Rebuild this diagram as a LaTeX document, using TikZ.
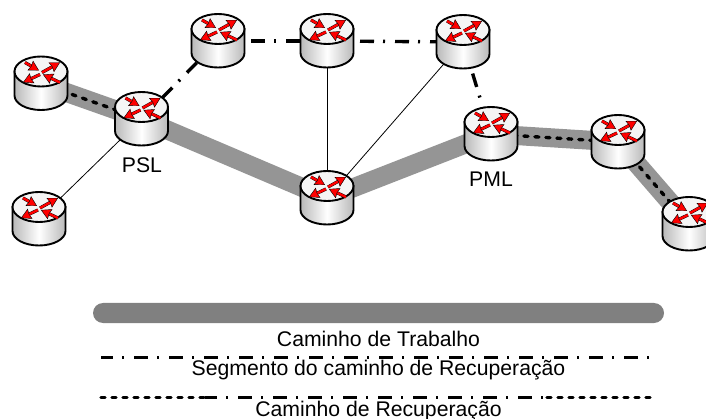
\documentclass[tikz,border=0pt]{standalone}
\usepackage{fontspec}
\setmainfont{Liberation Sans}
\usepackage{tikz}
\usetikzlibrary{arrows.meta}

\tikzset{
    spot/.style={inner sep=0pt, minimum width=54pt, minimum height=54pt},
    label/.style={font=\fontsize{21.2}{24}\selectfont, inner sep=0pt},
    work/.style={draw=workgray, line width=19pt},
    segment/.style={draw=black, line width=3.4pt, dash pattern=on 14pt off 9pt on 2pt off 10pt, dash phase=2pt},
    backup/.style={draw=black, line width=3.4pt, line cap=round, dash pattern=on 4pt off 7pt},
    plain/.style={draw=black, line width=0.8pt},
    legendbar/.style={fill=bargray, rounded corners=10pt, minimum width=571pt, minimum height=20pt, inner sep=0pt},
    redarrow/.style={draw=black, line width=0.4pt, double=red, double distance=2.4pt, -{Stealth[length=10pt, width=11pt, fill=red, inset=1pt]}},
    router/.pic={
        \draw[line width=1.9pt, left color=gray!55, right color=gray!55, middle color=white]
            (-26.5,-12) -- (-26.5,12) arc[start angle=180, end angle=0, x radius=26.5, y radius=14.5] -- (26.5,-12) -- cycle;
        \draw[line width=1.9pt, fill=gray!8] (0,-12) ellipse[x radius=26.5, y radius=15];
        \draw[redarrow] (-16,-21) -- (-2,-13);
        \draw[redarrow] (1,-11) -- (19,-21);
        \draw[redarrow] (-1,-9) -- (-18,-1);
        \draw[redarrow] (19,-1) -- (2,-9);
    }
}
\definecolor{workgray}{HTML}{959595}
\definecolor{bargray}{HTML}{808080}

\begin{document}
\begin{tikzpicture}[x=1pt, y=-1pt]
    \clip (0,0) rectangle (706,419);

    % Routers
    \node [spot] (left) at (41,83.5) {};
    \node [spot] (psl) at (141.5,119) {};
    \node [spot] (lower) at (39,219) {};
    \node [spot] (topa) at (218,41) {};
    \node [spot] (topb) at (327,41) {};
    \node [spot] (topc) at (463,42) {};
    \node [spot] (middle) at (327,198) {};
    \node [spot] (pml) at (491,134) {};
    \node [spot] (right) at (618,142) {};
    \node [spot] (far) at (689,224) {};

    % Working path
    \draw [work] (left.center) -- (psl.center) -- (middle.center) -- (pml.center) -- (right.center) -- (far.center);

    % Thin links
    \draw [plain] (psl.center) -- (lower.center);
    \draw [plain] (topb.center) -- (middle.center);
    \draw [plain] (topc.center) -- (middle.center);

    % Recovery
    \draw [backup] (left.center) -- (psl.center);
    \draw [backup] (pml.center) -- (right.center);
    \draw [backup] (right.center) -- (far.center);
    \draw [segment, dash phase=5pt] (psl.center) -- (topa.center);
    \draw [segment] (topa.center) -- (topb.center);
    \draw [segment] (topb.center) -- (topc.center);
    \draw [segment] (topc.center) -- (pml.center);

    \foreach \n in {left,psl,lower,topa,topb,topc,middle,pml,right,far}
        \pic at (\n) {router};

    \node [label] (psltext) at (142,165) {PSL};
    \node [label] (pmltext) at (491,179) {PML};

    % Legend
    \node [legendbar] (bar) at (378.5,313) {};
    \node [label] (worktext) at (378.5,339) {Caminho de Trabalho};
    \coordinate (sega) at (101,357.5);
    \coordinate (segb) at (656,357.5);
    \draw [segment] (sega) -- (segb);
    \node [label] (segtext) at (378.5,370) {Segmento do caminho de Recuperação};
    \coordinate (reca) at (101,397.5);
    \coordinate (recb) at (205,397.5);
    \coordinate (recc) at (547,397.5);
    \coordinate (recd) at (652,397.5);
    \draw [backup] (reca) -- (recb);
    \draw [segment] (recb) -- (recc);
    \draw [backup] (recc) -- (recd);
    \node [label] (rectext) at (378.5,411) {Caminho de Recuperação};
\end{tikzpicture}
\end{document}
